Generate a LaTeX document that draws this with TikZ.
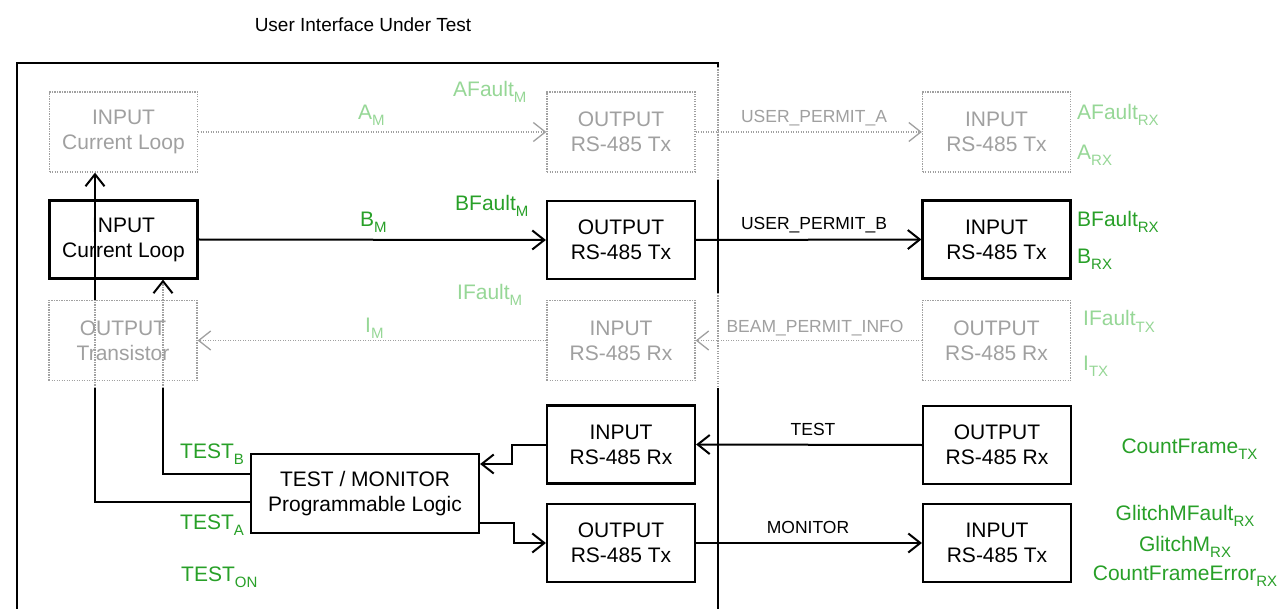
\documentclass[tikz,border=0pt]{standalone}
\usepackage{fontspec}
\setmainfont{Liberation Sans}
\usetikzlibrary{arrows.meta,calc}

\definecolor{sigdark}{RGB}{40,160,40}
\definecolor{siglight}{RGB}{150,215,150}
\definecolor{ghost}{RGB}{160,160,160}

% lowered, smaller subscript for signal names
\newcommand\lowsub[1]{\raisebox{-6pt}{\fontsize{15}{15}\selectfont #1}}

\begin{document}
\begin{tikzpicture}[x=1pt,y=-1pt,
  every node/.style={font=\fontsize{21}{25}\selectfont, inner sep=0pt},
  unit/.style={draw=black, line width=2.2pt, fill=white, minimum width=148pt,
               minimum height=78pt, align=center},
  ghostunit/.style={draw=ghost, line width=1.3pt, dash pattern=on 1.3pt off 1.2pt,
               minimum width=148pt, minimum height=80pt, align=center, text=ghost},
  frameline/.style={line width=2.4pt, draw=black},
  wire/.style={line width=2pt, draw=black},
  ghostwire/.style={line width=1.3pt, draw=ghost, dash pattern=on 1.3pt off 1.2pt},
  tip/.style={-{Straight Barb[length=12pt,width=19pt,line width=2pt]}},
  ghosttip/.style={-{Straight Barb[length=12pt,width=19pt,line width=1.3pt,color=ghost]}},
  darktip/.style={-{Straight Barb[length=12pt,width=19pt,line width=2pt,color=black]}},
  sig/.style={text=sigdark, anchor=base west},
  ghostsig/.style={text=siglight, anchor=base west},
  lbl/.style={font=\fontsize{17.5}{20}\selectfont, anchor=base},
  ghostlbl/.style={lbl, text=ghost},
]
\useasboundingbox (0,0) rectangle (1284,609);
\fill[white] (0,0) rectangle (1284,609);

% title
\node[font=\fontsize{19}{23}\selectfont] (title) at (363,25) {User Interface Under Test};

% enclosure of the unit under test
\draw[frameline] (17,615) -- (17,63) -- (718,63) -- (718,67);
\draw[ghostwire] (718,67) -- (718,180);
\draw[frameline] (718,180) -- (718,293);
\draw[ghostwire] (718,293) -- (718,388);
\draw[frameline] (718,388) -- (718,615);

% channel A (inactive)
\node[ghostunit] (aIn) at (123.5,132) {INPUT\\Current Loop};
\node[ghostunit] (aTx) at (621,132) {OUTPUT\\RS-485 Tx};
\node[ghostunit] (aRx) at (996.5,132) {INPUT\\RS-485 Tx};

% channel B
\node[unit] (bIn) at (123.5,239.5) {INPUT\\Current Loop};
\node[unit] (bTx) at (621,240) {OUTPUT\\RS-485 Tx};
\node[unit] (bRx) at (996.5,239.5) {INPUT\\RS-485 Tx};

% channel I (inactive)
\node[ghostunit] (iOut) at (123,340.5) {OUTPUT\\Transistor};
\node[ghostunit] (iRx) at (621,340.5) {INPUT\\RS-485 Rx};
\node[ghostunit] (iTx) at (996.5,340.5) {OUTPUT\\RS-485 Rx};

% test / monitor path
\node[unit] (tRx) at (621,444.5) {INPUT\\RS-485 Rx};
\node[unit] (tSrc) at (997,445) {OUTPUT\\RS-485 Rx};
\node[unit, minimum width=228pt, minimum height=79pt] (logic) at (365,493.5)
  {TEST / MONITOR\\Programmable Logic};
\node[unit] (mTx) at (621,543) {OUTPUT\\RS-485 Tx};
\node[unit] (mRx) at (997,543) {INPUT\\RS-485 Tx};

% inactive links
\draw[ghostwire, ghosttip] (aIn.east) -- (aTx.west);
\draw[ghostwire, ghosttip] (aTx.east) -- (aRx.west);
\draw[ghostwire, ghosttip] (iTx.west) -- (iRx.east);
\draw[ghostwire, ghosttip] (iRx.west) -- (iOut.east);

% active links
\draw[wire, tip] (bIn.east) -- (bTx.west);
\draw[wire, tip] (bTx.east) -- (bRx.west);
\draw[wire, tip] (tSrc.west) -- (tRx.east);
\draw[wire, tip] (mTx.east) -- (mRx.west);
\draw[wire, tip] (tRx.west) -- ++(-34,0) |- ($(logic.east)+(0,-29.5)$);
\draw[wire, tip] ($(logic.east)+(0,29.5)$) -- ++(34,0) |- (mTx.west);

% test drive lines back to the loop inputs
\coordinate (tbLow) at ($(iOut.south)+(40,7)$);
\coordinate (taLow) at ($(iOut.south)+(-28,7)$);
\coordinate (taHigh) at ($(iOut.north)+(-28,0)$);
\draw[wire] ($(logic.west)+(0,-19.5)$) -| (tbLow);
\draw[ghostwire, darktip] (tbLow) -- ($(bIn.south)+(39.5,0)$);
\draw[wire] ($(logic.west)+(0,8.5)$) -| (taLow);
\draw[ghostwire] (taLow) -- (taHigh);
\draw[wire, tip] (taHigh) -- ($(aIn.south)+(-28.5,0)$);

% link names
\node[ghostlbl] (nUPA) at (814,123) {USER\_PERMIT\_A};
\node[lbl] (nUPB) at (814,230) {USER\_PERMIT\_B};
\node[ghostlbl] (nBPI) at (815,333) {BEAM\_PERMIT\_INFO};
\node[lbl] (nTest) at (813,435) {TEST};
\node[lbl] (nMon) at (808,533) {MONITOR};

% signals inside the unit
\node[ghostsig] (sAFM) at (453,97) {AFault\lowsub{M}};
\node[ghostsig] (sAM) at (358,120) {A\lowsub{M}};
\node[sig] (sBM) at (360,227) {B\lowsub{M}};
\node[sig] (sBFM) at (455,211) {BFault\lowsub{M}};
\node[ghostsig] (sIFM) at (457,300) {IFault\lowsub{M}};
\node[ghostsig] (sIM) at (365,332) {I\lowsub{M}};
\node[sig] (sTB) at (180,458) {TEST\lowsub{B}};
\node[sig] (sTA) at (180,529) {TEST\lowsub{A}};
\node[sig] (sTON) at (181,581) {TEST\lowsub{ON}};

% signals at the receiving side
\node[ghostsig] (sAFR) at (1077,120) {AFault\lowsub{RX}};
\node[ghostsig] (sAR) at (1077,160) {A\lowsub{RX}};
\node[sig] (sBFR) at (1077,227) {BFault\lowsub{RX}};
\node[sig] (sBR) at (1077,264) {B\lowsub{RX}};
\node[ghostsig] (sIFT) at (1083,326) {IFault\lowsub{TX}};
\node[ghostsig] (sIT) at (1083,370) {I\lowsub{TX}};
\node[sig, anchor=base] (sCF) at (1189.5,453) {CountFrame\lowsub{TX}};
\node[sig, anchor=base] (sGMF) at (1185,520) {GlitchMFault\lowsub{RX}};
\node[sig, anchor=base] (sGM) at (1185,551) {GlitchM\lowsub{RX}};
\node[sig, anchor=base] (sCFE) at (1185,580) {CountFrameError\lowsub{RX}};
\end{tikzpicture}
\end{document}
